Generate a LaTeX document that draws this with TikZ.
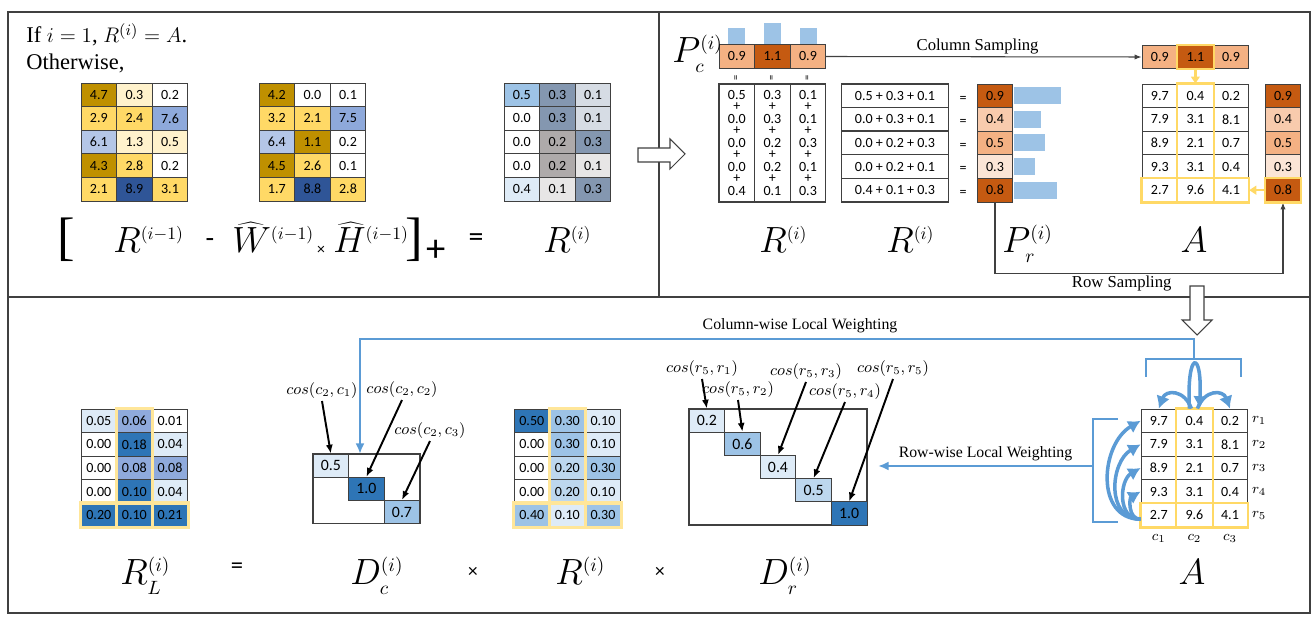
\documentclass[tikz,border=0pt]{standalone}
\usepackage{fontspec}
\setmainfont{Liberation Serif}
\newfontfamily\calfont{Carlito}
\usepackage{tikz}
\usetikzlibrary{calc,arrows.meta,positioning}

\definecolor{gold}{HTML}{BF9000}
\definecolor{ymid}{HTML}{FFD966}
\definecolor{ylight}{HTML}{FFF2CC}
\definecolor{bmid}{HTML}{8EA9DB}
\definecolor{blight}{HTML}{B4C6E7}
\definecolor{bdark}{HTML}{2F5597}
\definecolor{sky}{HTML}{9DC3E6}
\definecolor{slate}{HTML}{8497B0}
\definecolor{mist}{HTML}{D6DCE4}
\definecolor{stone}{HTML}{AEAAAA}
\definecolor{fog}{HTML}{E7E6E6}
\definecolor{ice}{HTML}{DEEBF7}
\definecolor{bsoft}{HTML}{BDD7EE}
\definecolor{bdeep}{HTML}{2E75B6}
\definecolor{bhl}{HTML}{8FAADC}
\definecolor{oa}{HTML}{FBE5D6}
\definecolor{ob}{HTML}{F8CBAD}
\definecolor{oc}{HTML}{F4B183}
\definecolor{od}{HTML}{C55A11}
\definecolor{wblue}{HTML}{5B9BD5}
\definecolor{hly}{HTML}{FFD966}
\definecolor{hlp}{HTML}{FFE699}
\definecolor{lines}{HTML}{404040}

\begin{document}
\begin{tikzpicture}[x=0.02cm, y=-0.02cm]
	\tikzstyle{cell}=[draw=lines, line width=0.5pt, minimum width=0.712cm, minimum height=0.472cm, inner sep=0pt, font=\calfont\fontsize{8}{9}\selectfont]
	\tikzstyle{dcell}=[cell, minimum height=0.464cm, font=\calfont\fontsize{9}{10}\selectfont]
	\tikzstyle{num}=[inner sep=0pt, font=\calfont\fontsize{8}{9}\selectfont]
	\tikzstyle{eqmark}=[inner sep=0pt, rotate=90, font=\calfont\fontsize{6}{6}\selectfont]
	\tikzstyle{colbox}=[draw=lines, line width=0.7pt, minimum width=0.712cm, minimum height=2.36cm, inner sep=0pt]
	\tikzstyle{sumrow}=[cell, minimum width=2.136cm, line width=0.8pt]
	\tikzstyle{bar}=[fill=sky]
	\tikzstyle{hl}=[draw=hly, line width=1.3pt]
	\tikzstyle{hlsoft}=[draw=hlp, line width=1.8pt]
	\tikzstyle{hlarrow}=[draw=hly, line width=1.3pt, -{Triangle[length=4pt,width=5pt]}]
	\tikzstyle{big}=[inner sep=0pt, anchor=base west, font=\fontsize{20}{22}\selectfont]
	\tikzstyle{op}=[inner sep=0pt, font=\calfont\fontsize{14}{16}\selectfont]
	\tikzstyle{lbl}=[inner sep=1pt, font=\fontsize{9.5}{11}\selectfont]
	\tikzstyle{idx}=[inner sep=0pt, font=\fontsize{8}{9}\selectfont]
	\tikzstyle{coslbl}=[inner sep=1pt, font=\fontsize{9}{10}\selectfont]
	\tikzstyle{cosarrow}=[draw=black, line width=1.1pt, -{Latex[length=5pt,width=4pt]}]
	\tikzstyle{samp}=[draw=lines, line width=0.6pt, -{Latex[length=4pt,width=3pt]}]
	\tikzstyle{wline}=[draw=wblue, line width=1.3pt]
	\tikzstyle{curv}=[draw=wblue, line width=2pt, -{Latex[length=7pt,width=8pt]}]
	\tikzstyle{frame}=[draw=lines, line width=0.8pt]
	\tikzstyle{hollow}=[draw=lines, line width=0.6pt, fill=white]

	\useasboundingbox (0,0) rectangle (1316,624);
	\draw[frame] (8,12) rectangle (1310,613);
	\draw[frame] (8,297) -- (1310,297);
	\draw[frame] (659,12) -- (659,297);

	\foreach \nm/\ox/\oy/\vals in {
		ra/81/83/{4.7/gold,0.3/ylight,0.2/white,2.9/ymid,2.4/ymid,7.6/bmid,6.1/blight,1.3/ylight,0.5/ylight,4.3/gold,2.8/ymid,0.2/white,2.1/ymid,8.9/bdark,3.1/ymid},
		wh/259/83/{4.2/gold,0.0/white,0.1/white,3.2/ymid,2.1/ymid,7.5/bmid,6.4/blight,1.1/gold,0.2/white,4.5/gold,2.6/ymid,0.1/white,1.7/ymid,8.8/bdark,2.8/ymid},
		ri/504/83/{0.5/sky,0.3/slate,0.1/mist,0.0/white,0.3/slate,0.1/mist,0.0/white,0.2/stone,0.3/slate,0.0/white,0.2/stone,0.1/fog,0.4/ice,0.1/fog,0.3/slate},
		ta/1142/84/{9.7/white,0.4/white,0.2/white,7.9/white,3.1/white,8.1/white,8.9/white,2.1/white,0.7/white,9.3/white,3.1/white,0.4/white,2.7/white,9.6/white,4.1/white},
		rl/81/409/{0.05/ice,0.06/bhl,0.01/white,0.00/white,0.18/bdeep,0.04/ice,0.00/white,0.08/bhl,0.08/bhl,0.00/white,0.10/bdeep,0.04/ice,0.20/bdeep,0.10/bdeep,0.21/bdeep},
		rb/514/409/{0.50/bdeep,0.30/sky,0.10/ice,0.00/white,0.30/sky,0.10/ice,0.00/white,0.20/bsoft,0.30/sky,0.00/white,0.20/bsoft,0.10/ice,0.40/sky,0.10/ice,0.30/sky},
		ba/1141/409/{9.7/white,0.4/white,0.2/white,7.9/white,3.1/white,8.1/white,8.9/white,2.1/white,0.7/white,9.3/white,3.1/white,0.4/white,2.7/white,9.6/white,4.1/white}}{
		\foreach \v/\f [count=\k from 0] in \vals {
			\pgfmathtruncatemacro{\mr}{int(\k/3)}
			\pgfmathtruncatemacro{\mc}{mod(\k,3)}
			\node[cell, fill=\f] (\nm-\k) at ({\ox+35.6*(\mc+0.5)},{\oy+23.6*(\mr+0.5)}) {\v};
		}
	}

	\node[anchor=base west, inner sep=0pt, font=\fontsize{12.8}{14}\selectfont] (cond) at (26,43) {If $i=1$, $R^{(i)}=A$.};
	\node[anchor=base west, inner sep=0pt, font=\fontsize{12.8}{14}\selectfont] (other) at (26,70) {Otherwise,};
	\node[op, font=\fontsize{30}{32}\selectfont] (lbrk) at (66,240) {[};
	\node[big] (rprev) at (113,253) {$R^{\scriptscriptstyle(i-1)}$};
	\node[op, font=\calfont\fontsize{16}{18}\selectfont] (minus) at (210,243) {-};
	\node[big] (what) at (232,253) {$\widehat{W}^{\scriptscriptstyle(i-1)}$};
	\node[op, font=\calfont\fontsize{9}{10}\selectfont] (tms) at (321,250) {×};
	\node[big] (hhat) at (333,253) {$\widehat{H}^{\scriptscriptstyle(i-1)}$};
	\node[op, font=\fontsize{30}{32}\selectfont] (rbrk) at (414,240) {]};
	\node[op, font=\calfont\fontsize{22}{24}\selectfont] (plus) at (436,251) {+};
	\node[op, font=\calfont\fontsize{17}{18}\selectfont] (eqa) at (476,240) {=};
	\node[big] (rcur) at (543,253) {$R^{\scriptscriptstyle(i)}$};

	\draw[hollow] (638,148) -- (670,148) -- (670,139) -- (685,154) -- (670,169) -- (670,162) -- (638,162) -- cycle;

	\foreach \v/\f/\b [count=\k from 0] in {0.9/oc/16,1.1/od/21,0.9/oc/16}{
		\node[cell, fill=\f] (pc-\k) at ({719+35.6*(\k+0.5)},56.5) {\v};
		\fill[bar] ($(pc-\k.north)+(-8.5,-0.4)$) rectangle ++(17,-\b);
		\node[eqmark] at ($(pc-\k.south)+(0,9)$) {=};
		\node[cell, fill=\f] (pa-\k) at ({1142+35.6*(\k+0.5)},57) {\v};
	}
	\node[big, font=\fontsize{21}{23}\selectfont] (pcl) at (672,63) {$P^{\scriptscriptstyle(i)}_{\scriptscriptstyle c}$};

	\foreach \vals [count=\i from 0] in {{0.5,0.0,0.0,0.0,0.4},{0.3,0.3,0.2,0.2,0.1},{0.1,0.1,0.3,0.1,0.3}}{
		\node[colbox] (rc-\i) at ({719+35.6*(\i+0.5)},143) {};
		\foreach \v [count=\k from 0] in \vals {
			\node[num] at ({719+35.6*(\i+0.5)},{95+24*\k}) {\v};
		}
		\foreach \k in {0,...,3} \node[num] at ({719+35.6*(\i+0.5)},{107+24*\k}) {+};
	}

	\foreach \s/\v/\f/\b [count=\k from 0] in {{0.5 + 0.3 + 0.1}/0.9/od/47,{0.0 + 0.3 + 0.1}/0.4/ob/27,{0.0 + 0.2 + 0.3}/0.5/oc/31,{0.0 + 0.2 + 0.1}/0.3/oa/21,{0.4 + 0.1 + 0.3}/0.8/od/43}{
		\node[sumrow] (rs-\k) at (895,{95.8+23.6*\k}) {\s};
		\node[num] at (963,{99+23.6*\k}) {=};
		\node[cell, fill=\f] (pr-\k) at (995,{95.8+23.6*\k}) {\v};
		\fill[bar] ($(pr-\k.east)+(0.4,-8.5)$) rectangle ++(\b,17);
		\node[cell, fill=\f] (prb-\k) at (1283,{95.8+23.6*\k}) {\v};
	}

	\node[big] (rcl) at (759,253) {$R^{\scriptscriptstyle(i)}$};
	\node[big] (rsl) at (886,253) {$R^{\scriptscriptstyle(i)}$};
	\node[big, font=\fontsize{22}{24}\selectfont] (prl) at (1002,253) {$P^{\scriptscriptstyle(i)}_{\scriptscriptstyle r}$};
	\node[big, anchor=base] (tal) at (1194,253) {$A$};

	\draw[samp] (pc-2.east) -- node[lbl, above, pos=0.48] {Column Sampling} (pa-0.west);
	\draw[samp] (pr-4.south) -- ++(0,71) -| node[lbl, below, pos=0.22] {Row Sampling} (prb-4.south);

	\draw[hl] (ta-1.north west) rectangle (ta-13.south east);
	\draw[hl] (ta-12.north west) rectangle (ta-14.south east);
	\draw[hl] (pa-1.north west) rectangle (pa-1.south east);
	\draw[hl] (prb-4.north west) rectangle (prb-4.south east);
	\draw[hlarrow] (pa-1.south) -- (ta-1.north);
	\draw[hlarrow] (prb-4.west) -- (ta-14.east);

	\draw[hollow] (1190,286) -- (1204,286) -- (1204,320) -- (1212,320) -- (1197,335) -- (1182,320) -- (1190,320) -- cycle;

	\draw[hlsoft] (rl-1.north west) rectangle (rl-13.south east);
	\draw[hlsoft] (rl-12.north west) rectangle (rl-14.south east);
	\draw[hlsoft] (rb-1.north west) rectangle (rb-13.south east);
	\draw[hlsoft] (rb-12.north west) rectangle (rb-14.south east);
	\draw[hl] (ba-1.north west) rectangle (ba-13.south east);
	\draw[hl] (ba-12.north west) rectangle (ba-14.south east);

	\draw[draw=lines, line width=0.8pt] (313,454) rectangle (419.8,523.6);
	\foreach \v/\f [count=\k] in {0.5/ice,1.0/bdeep,0.7/sky}
		\node[dcell, fill=\f] (dc-\k) at ({313+35.6*(\k-0.5)},{454+23.2*(\k-0.5)}) {\v};
	\draw[draw=lines, line width=0.8pt] (689,409) rectangle (867,525);
	\foreach \v/\f [count=\k] in {0.2/ice,0.6/sky,0.4/ice,0.5/bsoft,1.0/bdeep}
		\node[dcell, fill=\f] (dr-\k) at ({689+35.6*(\k-0.5)},{409+23.2*(\k-0.5)}) {\v};

	\foreach \n/\lx/\ly/\t in {1/322/391/{cos(c_2,c_1)},2/402/390/{cos(c_2,c_2)},3/430/431/{cos(c_2,c_3)}}{
		\node[coslbl] (cc-\n) at (\lx,\ly) {$\t$};
		\draw[cosarrow] (cc-\n.south) -- (dc-\n.north);
	}
	\foreach \n/\lx/\ly/\t in {1/702/369/{cos(r_5,r_1)},2/738/390/{cos(r_5,r_2)},3/806/372/{cos(r_5,r_3)},4/845/392/{cos(r_5,r_4)},5/893/369/{cos(r_5,r_5)}}{
		\node[coslbl] (cr-\n) at (\lx,\ly) {$\t$};
		\draw[cosarrow] (cr-\n.south) -- (dr-\n.north);
	}

	\coordinate (cbr) at (1194,359);
	\coordinate (dct) at (360,454);
	\draw[wline] (1146,377) -- (1146,359) -- (1241,359) -- (1241,377);
	\draw[wline, -{Latex[length=6pt,width=5pt]}] (cbr) -- ++(0,-20) -| (dct);
	\node[lbl, font=\fontsize{9}{11}\selectfont] (cwl) at (800,326) {Column-wise Local Weighting};

	\coordinate (rbr) at (1093,466);
	\coordinate (rwe) at (878,466);
	\draw[wline] (1118,419) -- (1093,419) -- (1093,522) -- (1118,522);
	\draw[wline, -{Latex[length=6pt,width=5pt]}] (rbr) -- node[lbl, font=\fontsize{9}{11}\selectfont, above=1pt] {Row-wise Local Weighting} (rwe);

	\foreach \k in {0,3,6,9}
		\draw[curv] ($(ba-12.west)+(0,4)$) to[out=180,in=210,looseness=1.2] (ba-\k.west);
	\draw[curv] ($(ba-1.north)+(-3,0)$) to[out=110,in=70,looseness=1.6] (ba-0.north);
	\draw[curv] ($(ba-1.north)+(3,0)$) to[out=70,in=110,looseness=1.6] (ba-2.north);
	\draw[curv] ($(ba-1.north)+(-5,0)$) .. controls +(-3,-59) and +(3,-59) .. ($(ba-1.north)+(5,0)$);

	\foreach \k/\t in {2/1,5/2,8/3,11/4,14/5}
		\node[idx] at ($(ba-\k.east)+(11,0)$) {$r_\t$};
	\foreach \k/\t in {12/1,13/2,14/3}
		\node[idx] at ($(ba-\k.south)+(0,11)$) {$c_\t$};

	\node[big, font=\fontsize{22}{24}\selectfont] (rll) at (120,585) {$R^{\scriptscriptstyle(i)}_{\scriptscriptstyle L}$};
	\node[op, font=\calfont\fontsize{14}{16}\selectfont] (eqb) at (237,568) {=};
	\node[big, font=\fontsize{22}{24}\selectfont] (dcl) at (350,585) {$D^{\scriptscriptstyle(i)}_{\scriptscriptstyle c}$};
	\node[op, font=\calfont\fontsize{11}{12}\selectfont] (tmb) at (473,572) {×};
	\node[big, font=\fontsize{22}{24}\selectfont] (rbl) at (555,585) {$R^{\scriptscriptstyle(i)}$};
	\node[op, font=\calfont\fontsize{11}{12}\selectfont] (tmc) at (660,572) {×};
	\node[big, font=\fontsize{22}{24}\selectfont] (drl) at (758,585) {$D^{\scriptscriptstyle(i)}_{\scriptscriptstyle r}$};
	\node[big, anchor=base, font=\fontsize{22}{24}\selectfont] (bal) at (1192,585) {$A$};
\end{tikzpicture}
\end{document}
